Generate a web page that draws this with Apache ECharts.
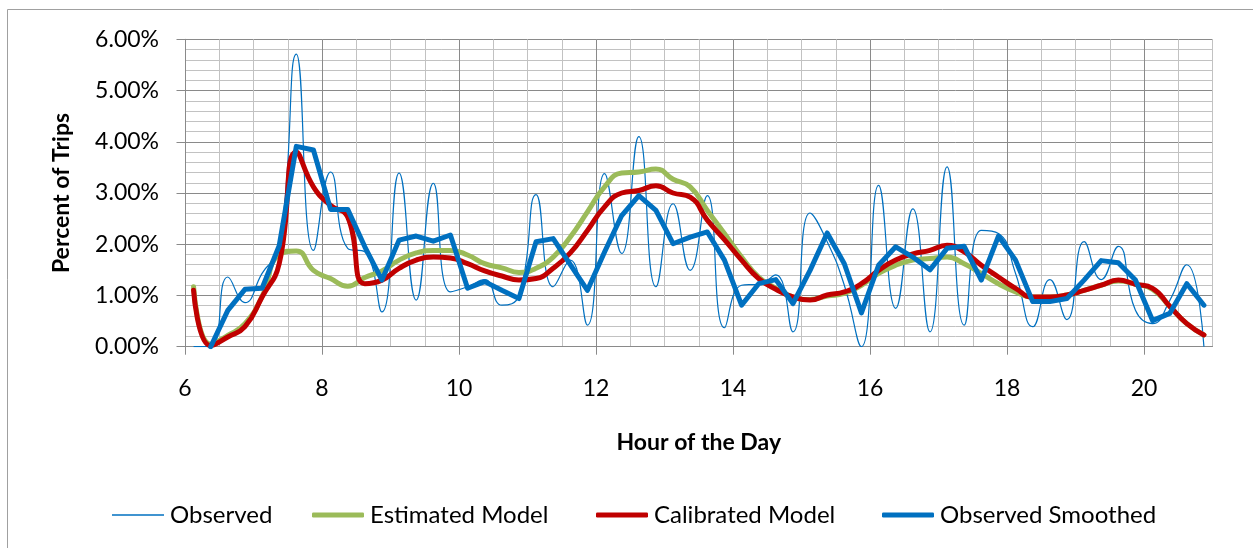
<!DOCTYPE html>
<html><head><meta charset="utf-8">
<script src="https://cdn.jsdelivr.net/npm/echarts@6/dist/echarts.min.js"></script>
<style>html,body{margin:0;padding:0;background:#fff}#c{width:1253px;height:548px}</style>
</head><body><div id="c"></div>
<script>
const hours = [6.125, 6.375, 6.625, 6.875, 7.125, 7.375, 7.625, 7.875, 8.125, 8.375,
  8.625, 8.875, 9.125, 9.375, 9.625, 9.875, 10.125, 10.375, 10.625, 10.875,
  11.125, 11.375, 11.625, 11.875, 12.125, 12.375, 12.625, 12.875, 13.125, 13.375,
  13.625, 13.875, 14.125, 14.375, 14.625, 14.875, 15.125, 15.375, 15.625, 15.875,
  16.125, 16.375, 16.625, 16.875, 17.125, 17.375, 17.625, 17.875, 18.125, 18.375,
  18.625, 18.875, 19.125, 19.375, 19.625, 19.875, 20.125, 20.375, 20.625, 20.875];
const observed = [0.00, 0.00, 1.36, 0.86, 1.43, 1.95, 5.71, 1.88, 3.41, 1.92,
  1.85, 0.68, 3.39, 0.91, 3.19, 1.07, 1.17, 1.31, 0.81, 1.00,
  2.97, 1.17, 1.69, 0.42, 3.38, 1.82, 4.10, 1.17, 2.79, 1.49,
  2.95, 0.37, 1.20, 1.22, 1.40, 0.29, 2.61, 2.05, 1.20, 0.00,
  3.15, 0.75, 2.69, 0.29, 3.51, 0.42, 2.27, 2.21, 1.43, 0.39,
  1.31, 0.53, 2.05, 1.31, 1.96, 0.71, 0.45, 0.90, 1.60, 0.00];
const estimatedModel = [1.17, 0.05, 0.22, 0.45, 0.98, 1.80, 1.87, 1.49, 1.33, 1.18,
  1.35, 1.48, 1.69, 1.83, 1.88, 1.88, 1.79, 1.62, 1.54, 1.45,
  1.53, 1.75, 2.14, 2.63, 3.12, 3.39, 3.41, 3.47, 3.27, 3.12,
  2.66, 2.21, 1.75, 1.36, 1.14, 0.97, 0.92, 0.99, 1.04, 1.20,
  1.43, 1.59, 1.69, 1.72, 1.75, 1.62, 1.43, 1.23, 1.07, 0.97,
  0.97, 1.01, 1.10, 1.20, 1.28, 1.22, 1.12, 0.79, 0.45, 0.23];
const calibratedModel = [1.10, 0.02, 0.19, 0.39, 0.97, 1.62, 3.80, 3.12, 2.76, 2.53,
  1.23, 1.30, 1.53, 1.69, 1.75, 1.73, 1.62, 1.48, 1.38, 1.30,
  1.33, 1.53, 1.83, 2.27, 2.73, 3.00, 3.05, 3.14, 3.00, 2.92,
  2.47, 2.09, 1.69, 1.33, 1.12, 0.97, 0.91, 1.01, 1.07, 1.23,
  1.49, 1.69, 1.81, 1.88, 1.98, 1.85, 1.59, 1.36, 1.14, 0.97,
  0.97, 1.01, 1.10, 1.20, 1.30, 1.22, 1.14, 0.79, 0.45, 0.23];
const observedSmoothed = [null, 0.00, 0.71, 1.12, 1.14, 1.97, 3.91, 3.84, 2.68, 2.68,
  1.95, 1.30, 2.08, 2.16, 2.06, 2.18, 1.14, 1.27, 1.10, 0.94,
  2.05, 2.11, 1.60, 1.10, 1.85, 2.56, 2.95, 2.66, 2.01, 2.14,
  2.24, 1.69, 0.81, 1.23, 1.31, 0.84, 1.49, 2.22, 1.62, 0.66,
  1.59, 1.95, 1.75, 1.50, 1.92, 1.96, 1.30, 2.16, 1.69, 0.88,
  0.88, 0.94, 1.30, 1.68, 1.64, 1.30, 0.51, 0.65, 1.23, 0.81];
const xTickLabels = [6, 8, 10, 12, 14, 16, 18, 20];
const yTickLabels = ['0.00%', '1.00%', '2.00%', '3.00%', '4.00%', '5.00%', '6.00%'];
const seriesNames = ['Observed', 'Estimated Model', 'Calibrated Model', 'Observed Smoothed'];

function pairs(vals) {
  const out = [];
  for (let i = 0; i < hours.length; i++) {
    if (vals[i] !== null) out.push([hours[i], vals[i]]);
  }
  return out;
}

const FONT = 'Lato';
const MAJOR = '#8A8A8A';
const MINOR = '#C2C2C2';

const legendLefts = [112, 312, 596, 882];
const legends = seriesNames.map((n, i) => ({
  data: [n],
  left: legendLefts[i], top: 503, padding: 0,
  icon: i === 0 ? 'rect' : 'roundRect',
  itemWidth: 52, itemHeight: i === 0 ? 1.3 : 5, itemGap: 5,
  textStyle: {fontFamily: FONT, fontSize: 24, color: '#000', padding: [0, 0, 0, 1]}
}));

const chart = echarts.init(document.getElementById('c'), null, {renderer: 'canvas'});
chart.setOption({
  animation: false,
  backgroundColor: '#fff',
  textStyle: {fontFamily: FONT},
  graphic: [{
    type: 'rect', silent: true, z: -10,
    shape: {x: 7.5, y: 9.5, width: 1400, height: 700},
    style: {fill: 'none', stroke: '#A0A0A0', lineWidth: 1}
  }],
  grid: {left: 185, right: 40.5, top: 39.3, bottom: 201.3, outerBoundsMode: 'none'},
  legend: legends,
  xAxis: [{
    type: 'value', min: 6, max: 21, interval: 0.5, position: 'bottom', z: 0,
    axisLine: {show: true, onZero: false, lineStyle: {color: MAJOR, width: 1}},
    axisTick: {show: false},
    axisLabel: {show: false},
    splitLine: {show: true, lineStyle: {color: MINOR, width: 1}}
  }, {
    type: 'value', min: 6, max: 21, interval: 2, position: 'bottom', z: 1,
    axisLine: {show: false, onZero: false},
    axisTick: {show: true, length: 8, customValues: xTickLabels, lineStyle: {color: MAJOR}},
    axisLabel: {customValues: xTickLabels, margin: 30, fontSize: 23, color: '#000', fontFamily: FONT},
    splitLine: {show: true, lineStyle: {color: MAJOR, width: 1}},
    name: 'Hour of the Day', nameLocation: 'middle', nameGap: 84,
    nameTextStyle: {fontFamily: FONT, fontSize: 23, fontWeight: 'bold', color: '#000'}
  }],
  yAxis: {
    type: 'value', min: 0, max: 6, interval: 1,
    axisLine: {show: true, lineStyle: {color: MAJOR, width: 1}},
    axisTick: {show: true, length: 8.5, lineStyle: {color: MAJOR}},
    axisLabel: {margin: 26, fontSize: 23, color: '#000', fontFamily: FONT,
      formatter: v => yTickLabels[Math.round(v)]},
    splitLine: {show: true, lineStyle: {color: MAJOR, width: 1}},
    minorTick: {show: false, splitNumber: 5},
    minorSplitLine: {show: true, lineStyle: {color: MINOR, width: 1}},
    name: 'Percent of Trips', nameLocation: 'middle', nameGap: 112, nameRotate: 90,
    nameTextStyle: {fontFamily: FONT, fontSize: 23, fontWeight: 'bold', color: '#000'}
  },
  series: [{
    name: seriesNames[0], type: 'line', smooth: 0.5, symbol: 'none', z: 2,
    lineStyle: {color: '#0070C0', width: 1.2}, itemStyle: {color: '#0070C0'},
    data: pairs(observed)
  }, {
    name: seriesNames[1], type: 'line', smooth: 0.5, symbol: 'none', z: 3,
    lineStyle: {color: '#9BBB59', width: 5, cap: 'round', join: 'round'}, itemStyle: {color: '#9BBB59'},
    data: pairs(estimatedModel)
  }, {
    name: seriesNames[2], type: 'line', smooth: 0.5, symbol: 'none', z: 4,
    lineStyle: {color: '#C00000', width: 5, cap: 'round', join: 'round'}, itemStyle: {color: '#C00000'},
    data: pairs(calibratedModel)
  }, {
    name: seriesNames[3], type: 'line', smooth: false, symbol: 'none', z: 5,
    lineStyle: {color: '#0070C0', width: 5, cap: 'round', join: 'round'}, itemStyle: {color: '#0070C0'},
    data: pairs(observedSmoothed)
  }]
});
</script>
</body></html>
